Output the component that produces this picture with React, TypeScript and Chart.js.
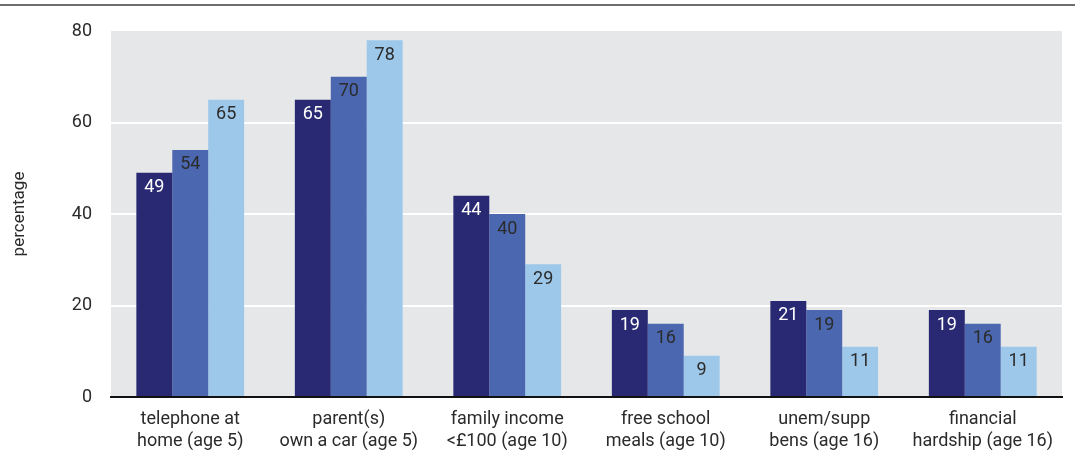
import React, { useEffect, useRef } from "react";
import { Chart, registerables } from "chart.js";

Chart.register(...registerables);

const categories: string[][] = [
  ["telephone at", "home (age 5)"],
  ["parent(s)", "own a car (age 5)"],
  ["family income", "<£100 (age 10)"],
  ["free school", "meals (age 10)"],
  ["unem/supp", "bens (age 16)"],
  ["financial", "hardship (age 16)"],
];
const seriesA = [49, 65, 44, 19, 21, 19];
const seriesB = [54, 70, 40, 16, 19, 16];
const seriesC = [65, 78, 29, 9, 11, 11];
const yTicks = [0, 20, 40, 60, 80];

const FONT = "Roboto, 'DejaVu Sans', sans-serif";
const TEXT = "#2b2b2b";

const bgPlugin = {
  id: "bgPlugin",
  beforeDraw(chart: any) {
    const { ctx, chartArea: a, width } = chart;
    ctx.save();
    ctx.fillStyle = "#ffffff";
    ctx.fillRect(0, 0, width, chart.height);
    ctx.fillStyle = "#e6e7e9";
    ctx.fillRect(a.left, a.top, a.right - a.left, a.bottom - a.top);
    ctx.strokeStyle = "#6e6e6e";
    ctx.lineWidth = 2;
    ctx.beginPath();
    ctx.moveTo(0, 5);
    ctx.lineTo(width, 5);
    ctx.stroke();
    ctx.restore();
  },
};

const labelPlugin = {
  id: "labelPlugin",
  afterDatasetsDraw(chart: any) {
    const { ctx } = chart;
    ctx.save();
    ctx.font = `18px ${FONT}`;
    ctx.textAlign = "center";
    ctx.textBaseline = "middle";
    chart.data.datasets.forEach((ds: any, di: number) => {
      const meta = chart.getDatasetMeta(di);
      meta.data.forEach((bar: any, i: number) => {
        ctx.fillStyle = di === 0 ? "#ffffff" : TEXT;
        ctx.fillText(String(ds.data[i]), bar.x, bar.y + 15);
      });
    });
    ctx.restore();
  },
};

export default function App() {
  const ref = useRef<HTMLCanvasElement>(null);
  useEffect(() => {
    document.body.style.margin = "0";
    const chart = new Chart(ref.current!, {
      type: "bar",
      data: {
        labels: categories,
        datasets: [
          { label: "series 1", data: seriesA, backgroundColor: "#282873" },
          { label: "series 2", data: seriesB, backgroundColor: "#4a67b0" },
          { label: "series 3", data: seriesC, backgroundColor: "#9dc8ea" },
        ],
      },
      options: {
        animation: false,
        responsive: false,
        layout: { padding: { top: 31, right: 13, left: 0, bottom: 0 } },
        datasets: { bar: { categoryPercentage: 0.68, barPercentage: 1 } },
        plugins: { legend: { display: false }, tooltip: { enabled: false } },
        scales: {
          x: {
            grid: { display: false },
            border: { display: true, color: "#111111", width: 2 },
            ticks: {
              color: TEXT,
              font: { family: FONT, size: 18, lineHeight: 1.25 },
              padding: 3,
              maxRotation: 0,
              autoSkip: false,
            },
            afterFit(scale: any) {
              scale.height = 53;
            },
          },
          y: {
            min: 0,
            max: 80,
            afterBuildTicks(scale: any) {
              scale.ticks = yTicks.map((v) => ({ value: v }));
            },
            grid: {
              color: (c: any) =>
                c.tick && (c.tick.value === 0 || c.tick.value === 80) ? "rgba(0,0,0,0)" : "#ffffff",
              lineWidth: 2,
              drawTicks: false,
            },
            border: { display: false },
            ticks: {
              color: TEXT,
              font: { family: FONT, size: 18 },
              padding: 19,
            },
            title: {
              display: true,
              text: "percentage",
              color: TEXT,
              font: { family: FONT, size: 17 },
              padding: { top: 10, bottom: 0 },
            },
            afterFit(scale: any) {
              scale.width = 111;
            },
          },
        },
      },
      plugins: [bgPlugin, labelPlugin],
    });
    return () => chart.destroy();
  }, []);
  return <canvas ref={ref} width={1075} height={450} style={{ display: "block" }} />;
}
